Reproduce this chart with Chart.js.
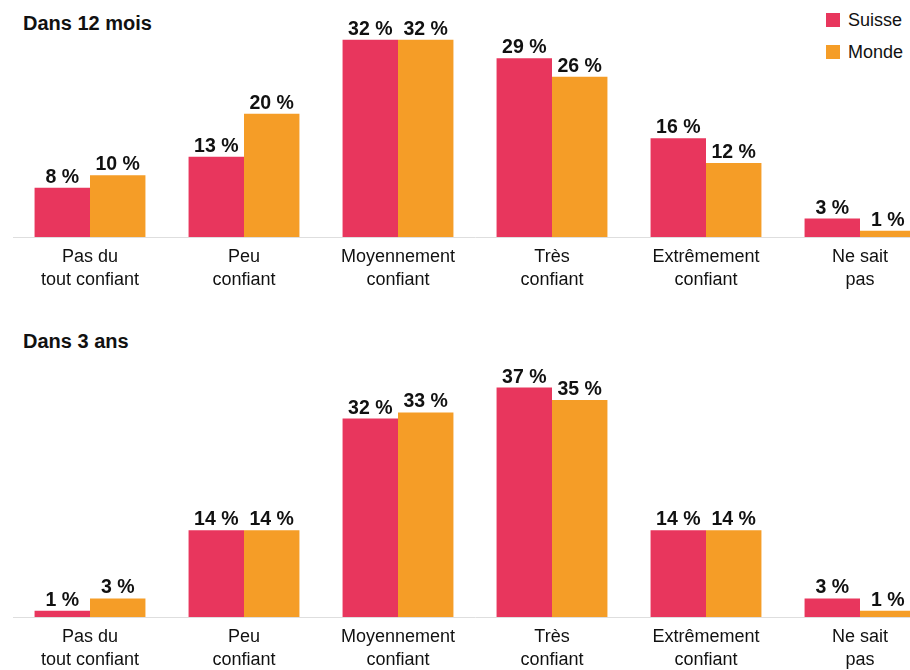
<!DOCTYPE html>
<html lang="fr">
<head>
<meta charset="utf-8">
<script src="https://cdn.jsdelivr.net/npm/chart.js@4.4.1/dist/chart.umd.min.js"></script>
<style>
  html, body { margin: 0; padding: 0; background: #fff; }
  body { width: 910px; height: 670px; overflow: hidden; position: relative;
         font-family: 'Liberation Sans', Arial, sans-serif; color: #111; }
  .panel { position: absolute; left: 0; }
  .title { position: absolute; left: 23px; font-weight: bold; font-size: 20px; line-height: 20px; white-space: nowrap; }
  .legend { position: absolute; left: 826px; top: 10px; font-size: 18px; }
  .legend div { height: 32px; line-height: 20px; white-space: nowrap; }
  .legend span.sw { display: inline-block; width: 14px; height: 14px; margin-right: 8px; vertical-align: -1px; }
</style>
</head>
<body>
<div class="title" style="top:13px">Dans 12 mois</div>
<div class="title" style="top:331px">Dans 3 ans</div>
<div class="legend">
  <div><span class="sw" style="background:#E8365D"></span>Suisse</div>
  <div><span class="sw" style="background:#F59D27"></span>Monde</div>
</div>
<div class="panel" style="top:0px"><canvas id="c1" width="950" height="300"></canvas></div>
<div class="panel" style="top:300px"><canvas id="c2" width="950" height="380"></canvas></div>
<script>
// Confidence levels (x categories)
const categories = [
  ['Pas du', 'tout confiant'],
  ['Peu', 'confiant'],
  ['Moyennement', 'confiant'],
  ['Très', 'confiant'],
  ['Extrêmement', 'confiant'],
  ['Ne sait', 'pas']
];
const seriesNames = ['Suisse', 'Monde'];

// Share of respondents, in %
const suisse12mois = [8, 13, 32, 29, 16, 3];
const monde12mois  = [10, 20, 32, 26, 12, 1];
const suisse3ans   = [1, 14, 32, 37, 14, 3];
const monde3ans    = [3, 14, 33, 35, 14, 1];

const colors = ['#E8365D', '#F59D27'];
const fontFamily = "'Liberation Sans', Arial, sans-serif";

// Writes "NN %" above each bar
const valueLabels = {
  id: 'valueLabels',
  afterDatasetsDraw(chart) {
    const ctx = chart.ctx;
    ctx.save();
    ctx.font = 'bold 19.5px ' + fontFamily;
    ctx.fillStyle = '#111';
    ctx.textAlign = 'center';
    ctx.textBaseline = 'alphabetic';
    chart.data.datasets.forEach((ds, i) => {
      chart.getDatasetMeta(i).data.forEach((bar, j) => {
        ctx.fillText(ds.data[j] + '\u00A0%', bar.x, bar.y - 5);
      });
    });
    ctx.restore();
  }
};

function makeChart(id, a, b, yMax, topPad) {
  return new Chart(document.getElementById(id), {
    type: 'bar',
    data: {
      labels: categories,
      datasets: [
        { label: seriesNames[0], data: a, backgroundColor: colors[0] },
        { label: seriesNames[1], data: b, backgroundColor: colors[1] }
      ]
    },
    options: {
      responsive: false,
      animation: false,
      datasets: { bar: { categoryPercentage: 0.72, barPercentage: 1.0, borderWidth: 0 } },
      layout: { padding: { left: 13, right: 13, top: topPad, bottom: 0 } },
      plugins: { legend: { display: false }, tooltip: { enabled: false } },
      scales: {
        x: {
          grid: { display: false, drawTicks: false },
          border: { display: true, color: '#dedede', width: 1 },
          ticks: { padding: 9, color: '#111', maxRotation: 0, autoSkip: false,
                   font: { family: fontFamily, size: 18, lineHeight: '22.5px' } }
        },
        y: { display: false, min: 0, max: yMax }
      }
    },
    plugins: [valueLabels]
  });
}

makeChart('c1', suisse12mois, monde12mois, 36, 15);
makeChart('c2', suisse3ans, monde3ans, 40, 69);
</script>
</body>
</html>
